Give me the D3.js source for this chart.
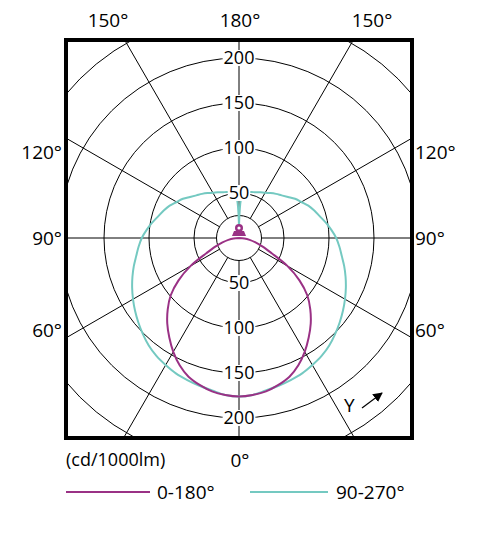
<!DOCTYPE html>
<html>
<head>
    <title>Polar intensity</title>
    <meta charset="utf-8">
    <script src="https://d3js.org/d3.v7.min.js"></script>
    <style>
        body { margin: 0; background: #fff; }
        svg { display: block; font-family: "Open Sans", sans-serif; }
        .grid line, .grid circle { stroke: #000; stroke-width: 1px; fill: none; }
    </style>
</head>
<body>
<svg id="myGraph" width="487" height="533"></svg>
<script>
// angles every 5 degrees, 0 = straight down, 180 = straight up
var angles = d3.range(0, 181, 5);
// cd/1000lm, plane C0-C180
var plane0_180 = [176, 175, 173, 169, 164, 156, 146, 135, 124, 112, 99, 82, 62, 40, 28, 19, 12, 6, 0,
                  0, 0, 0, 0, 0, 0, 0, 0, 0, 0, 0, 0, 0, 0, 0, 0, 0, 0];
// cd/1000lm, plane C90-C270
var plane90_270 = [176, 175, 172, 170, 168, 166, 163, 160, 156, 151, 146, 141, 136, 131, 126, 121, 116, 112, 108,
                   103, 98, 93, 89, 85, 80, 76, 71, 67, 64, 61, 58, 56, 54, 53, 52, 50, 12];
var rings = [25, 50, 100, 150, 200, 250];
var ringLabels = [50, 100, 150, 200];
var spokeAngles = d3.range(0, 360, 30);
var seriesNames = ["0-180°", "90-270°"];
var colors = ["#9a3185", "#74c9c1"];

var svg = d3.select("#myGraph");
var cx = 239, cy = 238;
var box = {x0: 66, x1: 412, y0: 40, y1: 438};

var r = d3.scaleLinear().domain([0, 250]).range([0, 225]);
var rad = function (deg) { return deg * Math.PI / 180; };

svg.append("clipPath").attr("id", "boxClip")
    .append("rect")
    .attr("x", box.x0).attr("y", box.y0)
    .attr("width", box.x1 - box.x0).attr("height", box.y1 - box.y0);

var g = svg.append("g").attr("clip-path", "url(#boxClip)");
var grid = g.append("g").attr("class", "grid");

// circles
grid.selectAll("circle").data(rings).enter().append("circle")
    .attr("cx", cx).attr("cy", cy)
    .attr("r", function (d) { return r(d); });

// spokes (0 = down)
grid.selectAll("line").data(spokeAngles).enter().append("line")
    .attr("x1", function (d) { return cx + r(25) * Math.sin(rad(d)); })
    .attr("y1", function (d) { return cy + r(25) * Math.cos(rad(d)); })
    .attr("x2", function (d) { return cx + r(400) * Math.sin(rad(d)); })
    .attr("y2", function (d) { return cy + r(400) * Math.cos(rad(d)); });

// curves: left half runs from 180 down to 0, right half from 0 up to 180
function curvePoints(values) {
    var pts = [];
    for (var i = angles.length - 1; i >= 0; i--) pts.push([Math.PI + rad(angles[i]), r(values[i])]);
    for (var j = 1; j < angles.length; j++) pts.push([Math.PI - rad(angles[j]), r(values[j])]);
    return pts;
}
var radial = d3.lineRadial()
    .angle(function (d) { return d[0]; })
    .radius(function (d) { return d[1]; })
    .curve(d3.curveCatmullRom.alpha(0.5));

var curves = g.append("g").attr("transform", "translate(" + cx + "," + cy + ")");
[plane90_270, plane0_180].forEach(function (vals, k) {
    curves.append("path")
        .attr("d", radial(curvePoints(vals)))
        .attr("fill", "none")
        .attr("stroke", colors[1 - k])
        .attr("stroke-width", 2)
        .attr("stroke-linejoin", "round");
});

// lamp symbol at the centre
var lamp = g.append("g").attr("fill", colors[0]);
lamp.append("path")
    .attr("d", "M" + (cx - 7) + "," + (cy - 2) + " L" + (cx + 7) + "," + (cy - 2) +
               " L" + (cx + 5) + "," + (cy - 7) + " L" + (cx - 5) + "," + (cy - 7) + " Z");
lamp.append("circle").attr("cx", cx).attr("cy", cy - 10).attr("r", 4);
lamp.append("circle").attr("cx", cx).attr("cy", cy - 10).attr("r", 1.6).attr("fill", "#fff");

// radial value labels, above and below centre, with white backing
var labs = svg.append("g").attr("font-size", 18).attr("text-anchor", "middle");
ringLabels.forEach(function (v) {
    [-1, 1].forEach(function (s) {
        var y = cy + s * r(v);
        var t = labs.append("text").attr("x", cx).attr("y", y).attr("dy", "0.35em").text(v);
        var bb = t.node().getBBox();
        labs.insert("rect", "text")
            .attr("x", bb.x - 1).attr("y", y - 8)
            .attr("width", bb.width + 2).attr("height", 16)
            .attr("fill", "#fff");
    });
});

// frame
svg.append("rect")
    .attr("x", box.x0).attr("y", box.y0)
    .attr("width", box.x1 - box.x0).attr("height", box.y1 - box.y0)
    .attr("fill", "none").attr("stroke", "#000").attr("stroke-width", 4);

// angle labels around the frame
var angleLabels = [
    {t: "150°", x: 108, y: 20, a: "middle"},
    {t: "180°", x: 240, y: 20, a: "middle"},
    {t: "150°", x: 372, y: 20, a: "middle"},
    {t: "120°", x: 62, y: 152, a: "end"},
    {t: "90°", x: 62, y: 238, a: "end"},
    {t: "60°", x: 62, y: 330, a: "end"},
    {t: "120°", x: 415, y: 152, a: "start"},
    {t: "90°", x: 415, y: 238, a: "start"},
    {t: "60°", x: 415, y: 330, a: "start"},
    {t: "0°", x: 240, y: 460, a: "middle"}
];
svg.append("g").attr("font-size", 19).selectAll("text").data(angleLabels).enter().append("text")
    .attr("x", function (d) { return d.x; })
    .attr("y", function (d) { return d.y; })
    .attr("dy", "0.35em")
    .attr("text-anchor", function (d) { return d.a; })
    .text(function (d) { return d.t; });

svg.append("text").attr("x", 66).attr("y", 460).attr("dy", "0.35em")
    .attr("font-size", 18).text("(cd/1000lm)");

// Y arrow
svg.append("text").attr("x", 344).attr("y", 405).attr("dy", "0.35em")
    .attr("font-size", 19).text("Y");
svg.append("defs").append("marker").attr("id", "arr")
    .attr("viewBox", "0 0 10 10").attr("refX", 9).attr("refY", 5)
    .attr("markerWidth", 8).attr("markerHeight", 8).attr("orient", "auto")
    .append("path").attr("d", "M0,0 L10,5 L0,10 Z").attr("fill", "#000");
svg.append("line").attr("x1", 362).attr("y1", 408).attr("x2", 382).attr("y2", 393)
    .attr("stroke", "#000").attr("stroke-width", 1.2).attr("marker-end", "url(#arr)");

// legend
var legend = svg.append("g").attr("font-size", 19);
var legX = [66, 250];
seriesNames.forEach(function (name, i) {
    legend.append("line")
        .attr("x1", legX[i]).attr("x2", legX[i] + (i === 0 ? 84 : 78))
        .attr("y1", 492).attr("y2", 492)
        .attr("stroke", colors[i]).attr("stroke-width", 2);
    legend.append("text")
        .attr("x", legX[i] + (i === 0 ? 91 : 86)).attr("y", 492).attr("dy", "0.35em")
        .text(name);
});
</script>
</body>
</html>
